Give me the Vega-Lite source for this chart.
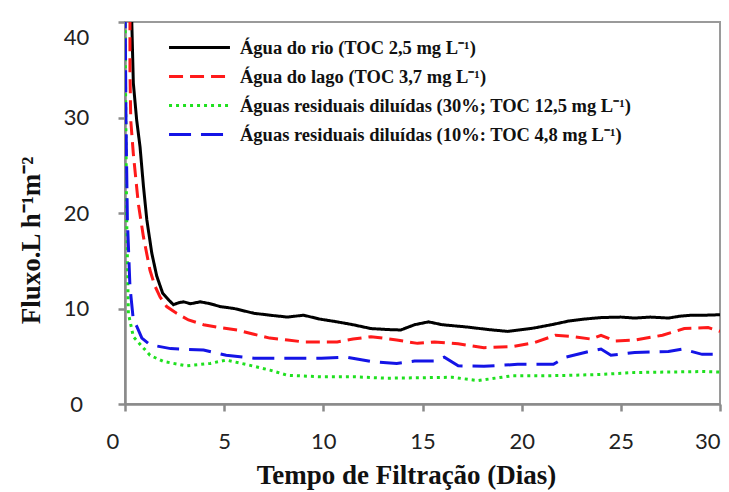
{
  "$schema": "https://vega.github.io/schema/vega-lite/v6.json",
  "autosize": "none",
  "width": 595,
  "height": 382,
  "padding": {"left": 125, "top": 22, "right": 9, "bottom": 88},
  "background": "white",
  "config": {
    "view": {"stroke": "#9a9a9a", "strokeWidth": 2},
    "axis": {
      "grid": false,
      "domainColor": "#8a8a8a",
      "domainWidth": 2.5,
      "tickColor": "#8a8a8a",
      "tickWidth": 2.5,
      "tickSize": 7,
      "labelFont": "Lato",
      "labelFontSize": 22,
      "labelColor": "#222222",
      "titleFont": "Liberation Serif",
      "titleFontWeight": "bold",
      "titleFontSize": 27,
      "titleColor": "#111111"
    },
    "legend": {
      "orient": "none",
      "legendX": 65,
      "legendY": 16,
      "padding": 0,
      "title": null,
      "labelFont": "Liberation Serif",
      "labelFontWeight": "bold",
      "labelFontSize": 18.5,
      "labelColor": "#111111",
      "labelLimit": 700,
      "labelOffset": 31,
      "rowPadding": 10,
      "symbolType": "M-4,0H4",
      "symbolSize": 232,
      "symbolStrokeWidth": 3
    }
  },
  "data": {
    "values": [
      {"s": "rio", "x": 0.30, "y": 45},
      {"s": "rio", "x": 0.34, "y": 40.2},
      {"s": "rio", "x": 0.42, "y": 33.6},
      {"s": "rio", "x": 0.59, "y": 29.7},
      {"s": "rio", "x": 0.76, "y": 26.9},
      {"s": "rio", "x": 0.93, "y": 22.8},
      {"s": "rio", "x": 1.10, "y": 19.3},
      {"s": "rio", "x": 1.35, "y": 15.8},
      {"s": "rio", "x": 1.60, "y": 13.4},
      {"s": "rio", "x": 1.90, "y": 11.6},
      {"s": "rio", "x": 2.20, "y": 10.9},
      {"s": "rio", "x": 2.44, "y": 10.4},
      {"s": "rio", "x": 2.70, "y": 10.6},
      {"s": "rio", "x": 2.95, "y": 10.7},
      {"s": "rio", "x": 3.30, "y": 10.5},
      {"s": "rio", "x": 3.80, "y": 10.7},
      {"s": "rio", "x": 4.30, "y": 10.5},
      {"s": "rio", "x": 4.80, "y": 10.2},
      {"s": "rio", "x": 5.50, "y": 10.0},
      {"s": "rio", "x": 6.50, "y": 9.5},
      {"s": "rio", "x": 7.30, "y": 9.3},
      {"s": "rio", "x": 8.20, "y": 9.1},
      {"s": "rio", "x": 9.00, "y": 9.3},
      {"s": "rio", "x": 9.80, "y": 8.9},
      {"s": "rio", "x": 10.70, "y": 8.6},
      {"s": "rio", "x": 11.50, "y": 8.3},
      {"s": "rio", "x": 12.40, "y": 7.9},
      {"s": "rio", "x": 13.20, "y": 7.8},
      {"s": "rio", "x": 13.90, "y": 7.75},
      {"s": "rio", "x": 14.60, "y": 8.3},
      {"s": "rio", "x": 15.30, "y": 8.6},
      {"s": "rio", "x": 16.00, "y": 8.3},
      {"s": "rio", "x": 17.30, "y": 8.05},
      {"s": "rio", "x": 18.30, "y": 7.8},
      {"s": "rio", "x": 19.30, "y": 7.6},
      {"s": "rio", "x": 20.60, "y": 7.95},
      {"s": "rio", "x": 21.50, "y": 8.3},
      {"s": "rio", "x": 22.40, "y": 8.7},
      {"s": "rio", "x": 23.20, "y": 8.9},
      {"s": "rio", "x": 24.00, "y": 9.05},
      {"s": "rio", "x": 25.00, "y": 9.1},
      {"s": "rio", "x": 25.70, "y": 9.0},
      {"s": "rio", "x": 26.50, "y": 9.1},
      {"s": "rio", "x": 27.40, "y": 9.0},
      {"s": "rio", "x": 28.00, "y": 9.2},
      {"s": "rio", "x": 28.60, "y": 9.3},
      {"s": "rio", "x": 29.30, "y": 9.3},
      {"s": "rio", "x": 30.00, "y": 9.35},

      {"s": "lago", "x": 0.25, "y": 45},
      {"s": "lago", "x": 0.25, "y": 35},
      {"s": "lago", "x": 0.29, "y": 29.7},
      {"s": "lago", "x": 0.42, "y": 26.2},
      {"s": "lago", "x": 0.67, "y": 21.0},
      {"s": "lago", "x": 0.93, "y": 17.5},
      {"s": "lago", "x": 1.26, "y": 14.0},
      {"s": "lago", "x": 1.50, "y": 12.4},
      {"s": "lago", "x": 1.77, "y": 11.2},
      {"s": "lago", "x": 2.10, "y": 10.2},
      {"s": "lago", "x": 2.60, "y": 9.5},
      {"s": "lago", "x": 3.20, "y": 8.8},
      {"s": "lago", "x": 3.96, "y": 8.3},
      {"s": "lago", "x": 4.80, "y": 8.0},
      {"s": "lago", "x": 5.65, "y": 7.75},
      {"s": "lago", "x": 6.50, "y": 7.3},
      {"s": "lago", "x": 7.30, "y": 6.9},
      {"s": "lago", "x": 8.20, "y": 6.7},
      {"s": "lago", "x": 9.00, "y": 6.5},
      {"s": "lago", "x": 10.70, "y": 6.5},
      {"s": "lago", "x": 11.50, "y": 6.8},
      {"s": "lago", "x": 12.40, "y": 7.05},
      {"s": "lago", "x": 13.00, "y": 6.9},
      {"s": "lago", "x": 13.70, "y": 6.7},
      {"s": "lago", "x": 14.75, "y": 6.35},
      {"s": "lago", "x": 15.60, "y": 6.5},
      {"s": "lago", "x": 16.80, "y": 6.3},
      {"s": "lago", "x": 18.10, "y": 5.9},
      {"s": "lago", "x": 19.50, "y": 6.0},
      {"s": "lago", "x": 20.60, "y": 6.4},
      {"s": "lago", "x": 21.70, "y": 7.2},
      {"s": "lago", "x": 22.40, "y": 7.1},
      {"s": "lago", "x": 23.50, "y": 6.8},
      {"s": "lago", "x": 24.00, "y": 7.2},
      {"s": "lago", "x": 24.70, "y": 6.6},
      {"s": "lago", "x": 25.70, "y": 6.7},
      {"s": "lago", "x": 27.10, "y": 7.2},
      {"s": "lago", "x": 28.20, "y": 7.9},
      {"s": "lago", "x": 29.40, "y": 8.0},
      {"s": "lago", "x": 30.00, "y": 7.6},

      {"s": "r30", "x": 0.00, "y": 45},
      {"s": "r30", "x": 0.02, "y": 35},
      {"s": "r30", "x": 0.08, "y": 20},
      {"s": "r30", "x": 0.17, "y": 9.5},
      {"s": "r30", "x": 0.42, "y": 7.05},
      {"s": "r30", "x": 1.26, "y": 5.1},
      {"s": "r30", "x": 1.94, "y": 4.45},
      {"s": "r30", "x": 3.10, "y": 4.0},
      {"s": "r30", "x": 4.30, "y": 4.25},
      {"s": "r30", "x": 5.10, "y": 4.6},
      {"s": "r30", "x": 6.20, "y": 4.1},
      {"s": "r30", "x": 7.30, "y": 3.55},
      {"s": "r30", "x": 8.20, "y": 3.0},
      {"s": "r30", "x": 9.90, "y": 2.85},
      {"s": "r30", "x": 11.60, "y": 2.85},
      {"s": "r30", "x": 13.20, "y": 2.7},
      {"s": "r30", "x": 14.90, "y": 2.75},
      {"s": "r30", "x": 16.50, "y": 2.8},
      {"s": "r30", "x": 17.80, "y": 2.45},
      {"s": "r30", "x": 19.50, "y": 2.95},
      {"s": "r30", "x": 21.00, "y": 2.95},
      {"s": "r30", "x": 22.40, "y": 3.0},
      {"s": "r30", "x": 24.00, "y": 3.1},
      {"s": "r30", "x": 25.70, "y": 3.3},
      {"s": "r30", "x": 27.50, "y": 3.35},
      {"s": "r30", "x": 29.10, "y": 3.4},
      {"s": "r30", "x": 30.00, "y": 3.35},

      {"s": "r10", "x": 0.00, "y": 45},
      {"s": "r10", "x": 0.01, "y": 40.2},
      {"s": "r10", "x": 0.05, "y": 29.7},
      {"s": "r10", "x": 0.12, "y": 19.3},
      {"s": "r10", "x": 0.25, "y": 12.3},
      {"s": "r10", "x": 0.42, "y": 8.8},
      {"s": "r10", "x": 0.60, "y": 8.1},
      {"s": "r10", "x": 0.85, "y": 6.9},
      {"s": "r10", "x": 1.26, "y": 6.2},
      {"s": "r10", "x": 2.30, "y": 5.8},
      {"s": "r10", "x": 3.96, "y": 5.65},
      {"s": "r10", "x": 5.10, "y": 5.1},
      {"s": "r10", "x": 6.50, "y": 4.8},
      {"s": "r10", "x": 8.20, "y": 4.8},
      {"s": "r10", "x": 9.90, "y": 4.8},
      {"s": "r10", "x": 11.20, "y": 4.9},
      {"s": "r10", "x": 12.40, "y": 4.45},
      {"s": "r10", "x": 13.70, "y": 4.25},
      {"s": "r10", "x": 14.60, "y": 4.5},
      {"s": "r10", "x": 15.60, "y": 4.5},
      {"s": "r10", "x": 16.10, "y": 4.9},
      {"s": "r10", "x": 16.80, "y": 4.0},
      {"s": "r10", "x": 18.10, "y": 3.95},
      {"s": "r10", "x": 19.80, "y": 4.15},
      {"s": "r10", "x": 21.60, "y": 4.15},
      {"s": "r10", "x": 22.20, "y": 4.9},
      {"s": "r10", "x": 23.40, "y": 5.5},
      {"s": "r10", "x": 24.00, "y": 5.75},
      {"s": "r10", "x": 24.50, "y": 5.1},
      {"s": "r10", "x": 25.70, "y": 5.4},
      {"s": "r10", "x": 27.40, "y": 5.5},
      {"s": "r10", "x": 28.10, "y": 5.75},
      {"s": "r10", "x": 29.10, "y": 5.2},
      {"s": "r10", "x": 30.00, "y": 5.2}
    ]
  },
  "mark": {"type": "line", "clip": true, "strokeWidth": 3},
  "encoding": {
    "x": {
      "field": "x",
      "type": "quantitative",
      "scale": {"domain": [0, 30], "nice": false},
      "axis": {
        "values": [0, 5, 10, 15, 20, 25, 30],
        "title": "Tempo de Filtração (Dias)",
        "titleX": 281,
        "titleY": 79,
        "titleBaseline": "alphabetic",
        "labelBaseline": "middle",
        "labelPadding": 30,
        "labelOffset": {"condition": {"test": "datum.value === 0", "value": -19}, "value": 0}
      }
    },
    "y": {
      "field": "y",
      "type": "quantitative",
      "scale": {"domain": [0, 40], "nice": false},
      "axis": {
        "values": [0, 10, 20, 30, 40],
        "title": "Fluxo.L h⁻¹m⁻²",
        "titleX": -94,
        "titleY": 218,
        "titleAngle": -90,
        "titleAlign": "center",
        "titleBaseline": "middle",
        "labelAlign": "center",
        "labelPadding": 42,
        "labelOffset": {"condition": {"test": "datum.value === 40", "value": 15}, "value": 0}
      }
    },
    "color": {
      "field": "s",
      "type": "nominal",
      "scale": {
        "domain": ["rio", "lago", "r30", "r10"],
        "range": ["#000000", "#ff1a1a", "#1fe01f", "#1414e6"]
      },
      "legend": {
        "labelExpr": "datum.label == 'rio' ? 'Água do rio (TOC 2,5 mg L⁻¹)' : datum.label == 'lago' ? 'Água do lago (TOC 3,7 mg L⁻¹)' : datum.label == 'r30' ? 'Águas residuais diluídas (30%; TOC 12,5 mg L⁻¹)' : 'Águas residuais diluídas (10%: TOC 4,8 mg L⁻¹)'"
      }
    },
    "strokeDash": {
      "field": "s",
      "type": "nominal",
      "scale": {
        "domain": ["rio", "lago", "r30", "r10"],
        "range": [[1, 0], [14, 7], [3, 4], [22, 10]]
      },
      "legend": {
        "labelExpr": "datum.label == 'rio' ? 'Água do rio (TOC 2,5 mg L⁻¹)' : datum.label == 'lago' ? 'Água do lago (TOC 3,7 mg L⁻¹)' : datum.label == 'r30' ? 'Águas residuais diluídas (30%; TOC 12,5 mg L⁻¹)' : 'Águas residuais diluídas (10%: TOC 4,8 mg L⁻¹)'"
      }
    }
  }
}
